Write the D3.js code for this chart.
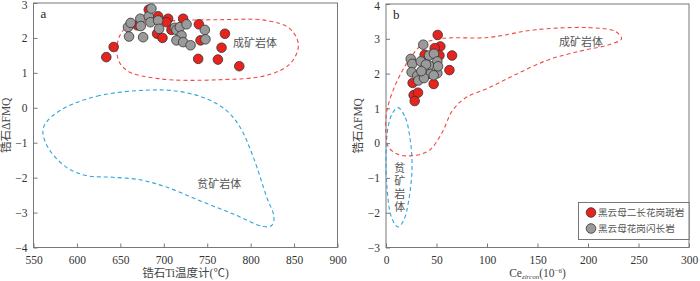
<!DOCTYPE html>
<html><head><meta charset="utf-8">
<script src="https://cdn.jsdelivr.net/npm/d3@7"></script>
<style>body{margin:0;background:#fff}svg{display:block}</style>
</head><body>
<svg id="c" width="700" height="281"></svg>
<script>
// ---- data ----
const xTicksA = [550,600,650,700,750,800,850,900];
const yTicksA = [-4,-3,-2,-1,0,1,2,3];
const xTicksB = [0,50,100,150,200,250,300];
const yTicksB = [-3,-2,-1,0,1,2,3,4];

// panel a: [Ti temperature, dFMQ]
const redA = [[633.8,1.45],[642.3,1.74],[669.6,2.36],[682.7,2.81],[693.5,2.62],[705,2.55],[692.3,2.12],[698.5,2.0],[703,2.45],[708.8,2.23],[722.3,2.55],[740.4,2.39],[742.3,1.93],[739.6,1.40],[762.3,1.38],[766.5,1.72],[770.4,2.12],[786.9,1.19]];
const grayA = [[658.8,2.31],[661.9,2.43],[660,2.04],[673,2.55],[673.5,2.34],[676.2,2.02],[682.7,2.62],[685.8,2.84],[684.6,2.45],[693.5,2.5],[694.6,2.26],[712.7,2.29],[714.6,2.23],[718.5,2.31],[720.4,2.07],[714.6,1.93],[722.3,1.88],[730.8,1.79],[726.2,2.39],[747.3,2.23],[748,1.96]];
// panel b: [Ce zircon, dFMQ]
const redB = [[51.2,3.11],[53.8,2.78],[48.2,2.73],[52.9,2.52],[65.4,2.52],[62.8,2.10],[38.3,2.54],[26.4,1.73],[47.2,1.70],[27.4,1.38],[31.7,1.45],[28.4,1.21],[41,2.0]];
const grayB = [[36.9,2.83],[24.5,2.42],[26,2.28],[34.4,2.35],[42.6,2.52],[47.5,2.57],[50.8,2.35],[42.6,2.23],[37.6,2.08],[25.4,2.04],[31,1.94],[32,1.80],[44.3,1.99],[50.8,2.01],[37.6,1.87],[51.5,2.21],[47.2,1.95],[39.6,2.26],[35,2.07]];

// field outlines
const oreA = [[648.5,2.02],[660.8,2.36],[703,2.48],[760.8,2.52],[818.5,2.50],[845.4,2.26],[855,1.79],[845.4,1.26],[818.5,0.93],[760.8,0.80],[695.4,0.83],[658.8,1.05],[647.3,1.40]];
const barrenA = [[676.2,0.50],[626.2,0.35],[587.7,0.02],[566.5,-0.36],[560.8,-0.65],[566.5,-1.13],[587.7,-1.70],[610.8,-1.94],[641.5,-1.99],[672.3,-2.06],[703,-2.27],[741.5,-2.66],[780,-3.04],[814.6,-3.40],[824.2,-3.37],[826.9,-3.13],[818.5,-2.56],[803,-1.41],[787.7,-0.55],[772.3,-0.08],[749.2,0.26],[714.6,0.48]];
const oreB = [[0.3,0.83],[4.3,1.30],[12.6,1.88],[24.1,2.45],[35.7,2.83],[52.2,3.0],[101.7,3.04],[148,3.26],[200.9,3.32],[227.3,3.21],[233.2,3.0],[220.7,2.83],[194.3,2.66],[161.2,2.40],[128.2,1.97],[101.7,1.59],[78.6,1.30],[65.4,0.92],[55.5,0.30],[42.3,-0.22],[25.8,-0.36],[12.6,-0.33],[2.6,-0.12],[0,0.26]];
const barrenB = [[11.9,1.02],[19.2,0.73],[24.1,0.07],[25.8,-0.70],[22.5,-1.65],[17.5,-2.22],[11.9,-2.41],[5.3,-2.12],[1.0,-1.27],[0,-0.31],[2,0.45],[5.9,0.83]];

const legendLabels = ["黑云母二长花岗斑岩","黑云母花岗闪长岩"];
const fieldLabels = ["成矿岩体","贫矿岩体"];

// ---- drawing ----
const svg = d3.select("#c");
const SERIF = "'Liberation Serif','Noto Sans CJK SC',serif";
const CJK = "'Noto Sans CJK SC',sans-serif";
const RED = "#e8231e", GRAY = "#9a9a9a";

function panel(o){
  const g = svg.append("g");
  const x = d3.scaleLinear().domain(o.xd).range([o.x0,o.x1]);
  const y = d3.scaleLinear().domain(o.yd).range([o.y1,o.y0]);
  const ax = g.append("g").attr("transform",`translate(0,${o.y1})`)
    .call(d3.axisBottom(x).tickValues(o.xt).tickSize(-4).tickSizeOuter(0).tickPadding(8));
  const ay = g.append("g").attr("transform",`translate(${o.x0},0)`)
    .call(d3.axisLeft(y).tickValues(o.yt).tickSize(-4).tickSizeOuter(0).tickPadding(6).tickFormat(d=>d<0?"\u2212"+Math.abs(d):d));
  [ax,ay].forEach(a=>{
    a.select(".domain").remove();
    a.selectAll("line").attr("stroke","#777");
    a.selectAll("text").attr("font-family",SERIF).attr("font-size",11.5).attr("fill","#333");
  });
  ay.selectAll(".tick text").filter(d=>d===o.yd[1]).attr("dy","0.75em").attr("y",-3);
  g.append("rect").attr("x",o.x0).attr("y",o.y0).attr("width",o.x1-o.x0).attr("height",o.y1-o.y0)
    .attr("fill","none").attr("stroke","#777").attr("stroke-width",1);
  const line = d3.line().x(d=>x(d[0])).y(d=>y(d[1])).curve(d3.curveCatmullRomClosed.alpha(0.5));
  g.append("path").attr("d",line(o.barren)).attr("fill","none").attr("stroke","#2aa6df").attr("stroke-width",1.1).attr("stroke-dasharray","4,3");
  g.append("path").attr("d",line(o.ore)).attr("fill","none").attr("stroke","#ef4b43").attr("stroke-width",1.1).attr("stroke-dasharray","4,3");
  g.selectAll(null).data(o.red).enter().append("circle").attr("cx",d=>x(d[0])).attr("cy",d=>y(d[1])).attr("r",4.8)
    .attr("fill",RED).attr("stroke","#333").attr("stroke-width",0.8);
  g.selectAll(null).data(o.gray).enter().append("circle").attr("cx",d=>x(d[0])).attr("cy",d=>y(d[1])).attr("r",4.8)
    .attr("fill",GRAY).attr("stroke","#333").attr("stroke-width",0.8);
  g.append("text").attr("x",o.x0+7).attr("y",o.y0+15).text(o.letter).attr("font-family",SERIF).attr("font-size",13).attr("fill","#222");
  g.append("text").attr("transform",`translate(${o.x0-24},${(o.y0+o.y1)/2}) rotate(-90)`).attr("text-anchor","middle")
    .attr("font-family",SERIF).attr("font-size",11.5).attr("fill","#444").text("锆石ΔFMQ");
  return {g,x,y};
}

const A = panel({xd:[550,900],yd:[-4,3],x0:33.5,x1:337.5,y0:3,y1:247.5,xt:xTicksA,yt:yTicksA,
  red:redA,gray:grayA,ore:oreA,barren:barrenA,letter:"a"});
const B = panel({xd:[0,300],yd:[-3,4],x0:386,x1:689,y0:4,y1:247.5,xt:xTicksB,yt:yTicksB,
  red:redB,gray:grayB,ore:oreB,barren:barrenB,letter:"b"});

// x titles
svg.append("text").attr("x",185.5).attr("y",277).attr("text-anchor","middle")
  .attr("font-family",SERIF).attr("font-size",11.5).attr("fill","#444").text("锆石Ti温度计(℃)");
const tB = svg.append("text").attr("x",537.5).attr("y",277).attr("text-anchor","middle")
  .attr("font-family",SERIF).attr("font-size",11.5).attr("fill","#444");
tB.append("tspan").text("Ce");
tB.append("tspan").attr("font-size",7).attr("dy",2).attr("font-style","italic").text("zircon");
tB.append("tspan").attr("dy",-2).text("(10");
tB.append("tspan").attr("font-size",7).attr("dy",-4).text("−6");
tB.append("tspan").attr("dy",4).text(")");

// field labels
const lab = (x,y,t)=>svg.append("text").attr("x",x).attr("y",y).attr("text-anchor","middle")
  .attr("font-family",CJK).attr("font-size",11).attr("fill","#555").text(t);
lab(A.x(805),A.y(1.75),fieldLabels[0]);
lab(A.x(764),A.y(-2.3),fieldLabels[1]);
lab(B.x(193),B.y(2.8),fieldLabels[0]);
// vertical label, one text element
svg.append("text").attr("x",B.x(13.5)).attr("y",B.y(-1.3))
  .attr("writing-mode","vertical-rl").style("writing-mode","vertical-rl")
  .attr("text-anchor","middle").attr("letter-spacing",1.8)
  .attr("font-family",CJK).attr("font-size",11).attr("fill","#555").text(fieldLabels[1]);

// legend
const lg = svg.append("g");
lg.append("rect").attr("x",578.5).attr("y",202.5).attr("width",110.5).attr("height",37).attr("fill","#fff").attr("stroke","#555").attr("stroke-width",0.8);
[RED,GRAY].forEach((c,i)=>{
  lg.append("circle").attr("cx",591).attr("cy",212.5+i*16).attr("r",4.8).attr("fill",c).attr("stroke","#333").attr("stroke-width",0.8);
  lg.append("text").attr("x",598).attr("y",216+i*16).attr("font-family",CJK).attr("font-size",9.6).attr("fill","#555").text(legendLabels[i]);
});
</script>
</body></html>
